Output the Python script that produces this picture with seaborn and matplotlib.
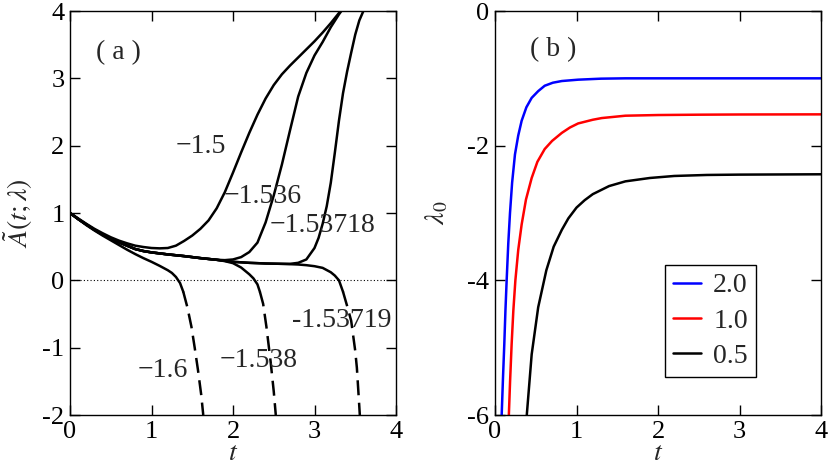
import matplotlib
matplotlib.use("Agg")
import matplotlib.pyplot as plt
import numpy as np
import pandas as pd
import seaborn as sns

# ---------------- data: panel (a) ----------------
t_m1500 = [0, 0.1, 0.2, 0.3, 0.4, 0.5, 0.6, 0.7, 0.8, 0.9, 1.0, 1.1, 1.2, 1.3, 1.4, 1.5, 1.6, 1.7,
           1.8, 1.9, 2.0, 2.1, 2.2, 2.3, 2.4, 2.5, 2.6, 2.7, 2.8, 2.9, 3.0, 3.1, 3.2, 3.3, 3.32]
a_m1500 = [1.0, 0.92, 0.84, 0.765, 0.70, 0.64, 0.59, 0.55, 0.515, 0.495, 0.48, 0.475, 0.48, 0.515,
           0.585, 0.665, 0.765, 0.89, 1.07, 1.31, 1.60, 1.90, 2.19, 2.46, 2.70, 2.90, 3.06, 3.19,
           3.31, 3.43, 3.55, 3.68, 3.82, 3.97, 4.0]

t_m1536 = [0, 0.1, 0.2, 0.3, 0.4, 0.5, 0.6, 0.7, 0.8, 0.9, 1.0, 1.2, 1.4, 1.6, 1.8, 1.9, 2.0, 2.1,
           2.2, 2.3, 2.4, 2.5, 2.6, 2.7, 2.8, 2.9, 3.0, 3.1, 3.2, 3.3, 3.33]
a_m1536 = [1.0, 0.91, 0.83, 0.75, 0.68, 0.62, 0.565, 0.515, 0.465, 0.435, 0.415, 0.385, 0.36, 0.33,
           0.305, 0.30, 0.31, 0.345, 0.42, 0.56, 0.86, 1.26, 1.72, 2.23, 2.73, 3.08, 3.34, 3.54,
           3.76, 3.95, 4.0]

t_m153718 = [0, 0.1, 0.2, 0.3, 0.4, 0.5, 0.6, 0.7, 0.8, 0.9, 1.0, 1.2, 1.4, 1.6, 1.8, 2.0, 2.2, 2.4,
             2.6, 2.7, 2.8, 2.9, 3.0, 3.05, 3.1, 3.15, 3.2, 3.25, 3.3, 3.35, 3.4, 3.45, 3.5, 3.55,
             3.6]
a_m153718 = [1.0, 0.91, 0.83, 0.75, 0.68, 0.62, 0.565, 0.515, 0.465, 0.435, 0.415, 0.385, 0.36,
             0.33, 0.305, 0.275, 0.26, 0.25, 0.245, 0.245, 0.26, 0.31, 0.48, 0.63, 0.84, 1.10,
             1.45, 1.90, 2.37, 2.78, 3.10, 3.38, 3.65, 3.86, 4.0]

t_m153719 = [0, 0.1, 0.2, 0.3, 0.4, 0.5, 0.6, 0.7, 0.8, 0.9, 1.0, 1.2, 1.4, 1.6, 1.8, 2.0, 2.2, 2.4,
             2.6, 2.8, 2.9, 3.0, 3.1, 3.2, 3.25, 3.3, 3.35, 3.4, 3.45, 3.5, 3.52, 3.55, 3.556]
a_m153719 = [1.0, 0.91, 0.83, 0.75, 0.68, 0.62, 0.565, 0.515, 0.465, 0.435, 0.415, 0.385, 0.36,
             0.33, 0.305, 0.275, 0.26, 0.25, 0.245, 0.235, 0.225, 0.21, 0.185, 0.12, 0.07, 0.0,
             -0.17, -0.38, -0.60, -1.05, -1.30, -1.88, -2.0]

t_m1538 = [0, 0.1, 0.2, 0.3, 0.4, 0.5, 0.6, 0.7, 0.8, 0.9, 1.0, 1.2, 1.4, 1.6, 1.8, 1.9, 2.0, 2.1,
           2.2, 2.25, 2.3, 2.33, 2.37, 2.41, 2.46, 2.5, 2.525]
a_m1538 = [1.0, 0.91, 0.83, 0.75, 0.68, 0.62, 0.565, 0.515, 0.465, 0.435, 0.415, 0.385, 0.36, 0.33,
           0.305, 0.285, 0.255, 0.19, 0.09, 0.03, -0.06, -0.17, -0.35, -0.69, -1.19, -1.65, -2.0]

t_m1600 = [0, 0.1, 0.2, 0.3, 0.4, 0.5, 0.6, 0.7, 0.8, 0.9, 1.0, 1.1, 1.2, 1.25, 1.3, 1.35, 1.39,
           1.44, 1.49, 1.53, 1.57, 1.61, 1.635]
a_m1600 = [1.0, 0.91, 0.82, 0.74, 0.665, 0.595, 0.525, 0.455, 0.39, 0.33, 0.275, 0.215, 0.15, 0.11,
           0.05, -0.04, -0.17, -0.40, -0.69, -1.0, -1.33, -1.70, -2.0]

curve_labels = ["\u22121.5", "\u22121.536", "\u22121.53718", "-1.53719", "\u22121.538", "\u22121.6"]
label_t = [1.61, 2.36, 3.10, 3.33, 2.32, 1.14]
label_a = [1.99, 1.24, 0.81, -0.60, -1.19, -1.34]

# ---------------- data: panel (b) ----------------
t_g20 = [0.082, 0.098, 0.114, 0.128, 0.143, 0.163, 0.184, 0.21, 0.245, 0.285, 0.327, 0.385, 0.45,
         0.53, 0.61, 0.71, 0.82, 1.02, 1.3, 1.6, 2.0, 3.0, 4.0]
l_g20 = [-6.0, -5.45, -4.95, -4.45, -4.0, -3.45, -3.0, -2.55, -2.13, -1.85, -1.63, -1.43, -1.29,
         -1.19, -1.11, -1.065, -1.04, -1.02, -1.005, -1.0, -1.0, -1.0, -1.0]

t_g10 = [0.17, 0.185, 0.204, 0.225, 0.25, 0.285, 0.327, 0.38, 0.45, 0.52, 0.61, 0.70, 0.82, 0.92,
         1.02, 1.2, 1.31, 1.6, 2.0, 2.5, 3.0, 4.0]
l_g10 = [-6.0, -5.5, -4.95, -4.45, -4.0, -3.55, -3.17, -2.8, -2.48, -2.24, -2.05, -1.93, -1.81,
         -1.73, -1.67, -1.615, -1.59, -1.555, -1.545, -1.54, -1.537, -1.535]

t_g05 = [0.39, 0.45, 0.53, 0.63, 0.72, 0.82, 0.9, 1.0, 1.1, 1.2, 1.4, 1.6, 1.9, 2.2, 2.6, 3.0, 4.0]
l_g05 = [-6.0, -5.1, -4.4, -3.85, -3.5, -3.25, -3.08, -2.92, -2.81, -2.72, -2.6, -2.53, -2.48,
         -2.45, -2.435, -2.43, -2.425]

legend_labels = ["2.0", "1.0", "0.5"]
legend_colors = ["#0000ff", "#ff0000", "#000000"]

# ---------------- style ----------------
sns.set_style("ticks")
plt.rcParams["font.family"] = "serif"
plt.rcParams["font.serif"] = ["Liberation Serif", "DejaVu Serif"]
plt.rcParams["mathtext.fontset"] = "stix"
plt.rcParams["axes.unicode_minus"] = False

W, H = 830, 465
fig = plt.figure(figsize=(W / 100, H / 100), dpi=100)
axA = fig.add_axes([70 / W, (H - 415) / H, 326 / W, 404 / H])
axB = fig.add_axes([495 / W, (H - 415) / H, 326 / W, 404 / H])

LW = 1.8
TICK_FS = 19
TEXT_FS = 20
DASH_BELOW = -0.17


def draw_split(ax, t, a):
    t = np.asarray(t, float)
    a = np.asarray(a, float)
    solid = a >= DASH_BELOW - 1e-9
    idx = np.where(~solid)[0]
    if len(idx) == 0:
        sns.lineplot(x=t, y=a, ax=ax, color="black", lw=LW, sort=False, estimator=None)
        return
    k = idx[0]
    sns.lineplot(x=t[:k], y=a[:k], ax=ax, color="black", lw=LW, sort=False, estimator=None)
    sns.lineplot(x=t[k - 1:], y=a[k - 1:], ax=ax, color="black", lw=LW, sort=False,
                 estimator=None, linestyle=(0, (6, 3)))


for t, a in [(t_m1500, a_m1500), (t_m1536, a_m1536), (t_m153718, a_m153718),
             (t_m153719, a_m153719), (t_m1538, a_m1538), (t_m1600, a_m1600)]:
    draw_split(axA, t, a)

axA.axhline(0, color="black", lw=0.8, ls=(0, (1, 2)))
for lab, x, y in zip(curve_labels, label_t, label_a):
    axA.text(x, y, lab, fontsize=TEXT_FS, ha="center", va="center")
axA.text(0.59, 3.38, "( a )", fontsize=TEXT_FS, ha="center", va="center")

axA.set_xlim(0, 4)
axA.set_ylim(-2, 4)
axA.set_xticks([0, 1, 2, 3, 4])
axA.set_yticks([-2, -1, 0, 1, 2, 3, 4])
axA.set_xlabel(r"$t$", fontsize=TEXT_FS, labelpad=-1)
axA.set_ylabel(r"$\tilde{A}(t;\lambda)$", fontsize=TEXT_FS, labelpad=5)

# panel (b)
dfs = []
for lab, t, l in zip(legend_labels, [t_g20, t_g10, t_g05], [l_g20, l_g10, l_g05]):
    dfs.append(pd.DataFrame({"t": t, "lam": l, "g": lab}))
dfB = pd.concat(dfs, ignore_index=True)
sns.lineplot(data=dfB, x="t", y="lam", hue="g", hue_order=legend_labels,
             palette=dict(zip(legend_labels, legend_colors)), ax=axB, lw=LW,
             sort=False, estimator=None)
axB.text(0.71, -0.58, "( b )", fontsize=TEXT_FS, ha="center", va="center")
axB.set_xlim(0, 4)
axB.set_ylim(-6, 0)
axB.set_xticks([0, 1, 2, 3, 4])
axB.set_yticks([-6, -4, -2, 0])
axB.set_xlabel(r"$t$", fontsize=TEXT_FS, labelpad=-1)
axB.set_ylabel(r"$\lambda_0$", fontsize=TEXT_FS, labelpad=12)
leg = axB.legend(loc="lower left", bbox_to_anchor=(0.52, 0.094), fontsize=TEXT_FS,
                 frameon=True, fancybox=False, framealpha=1, edgecolor="black",
                 handlelength=1.0, handletextpad=0.45, labelspacing=0.35, borderpad=0.3,
                 borderaxespad=0, title=None)
leg.get_frame().set_linewidth(1.0)

for ax in (axA, axB):
    ax.tick_params(direction="in", top=True, right=True, length=7, width=1,
                   labelsize=TICK_FS, pad=4, colors="black")
    for s in ax.spines.values():
        s.set_visible(True)
        s.set_linewidth(1.0)
        s.set_color("black")
    ax.set_facecolor("white")

fig.savefig("out.png", dpi=100, facecolor="white")
